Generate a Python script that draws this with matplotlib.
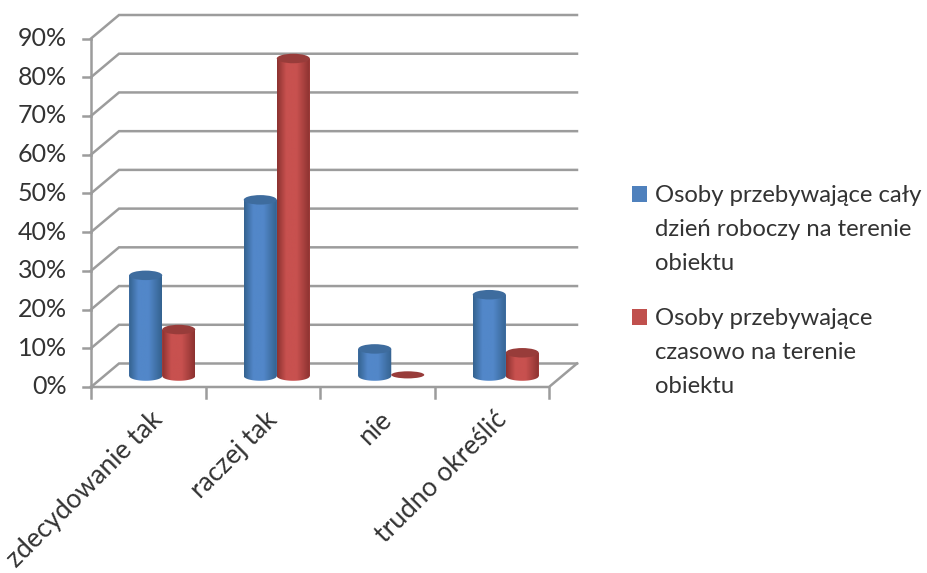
import numpy as np
import matplotlib
matplotlib.use("Agg")
import matplotlib.pyplot as plt
from matplotlib.patches import Ellipse, Polygon, Rectangle
from matplotlib.colors import LinearSegmentedColormap

categories = ["zdecydowanie tak", "raczej tak", "nie", "trudno określić"]
series_names = ["Osoby przebywające cały\ndzień roboczy na terenie\nobiektu",
                "Osoby przebywające\nczasowo na terenie\nobiektu"]
blue_values = [26, 45.5, 7, 21]
red_values = [12, 82, 0.3, 6]
y_ticks = [0, 10, 20, 30, 40, 50, 60, 70, 80, 90]

W, H = 927, 573
plt.rcParams["font.family"] = ["Lato", "DejaVu Sans"]
fig = plt.figure(figsize=(W / 100, H / 100), dpi=100)
L, R, B, T = 91, 549, 387, 38.5
ax = fig.add_axes([L / W, 1 - B / H, (R - L) / W, (B - T) / H])
ax.set_xlim(0, 4)
ax.set_ylim(0, 90)
ax.axis("off")

px = 4 / (R - L)
py = 90 / (B - T)
dx, dy = 28 * px, 23.5 * py
GRID = "#9c9c9c"
lw = 1.8
TXT = "#333333"

for v in y_ticks:
    ax.plot([0, dx, 4 + dx], [v, v + dy, v + dy], color=GRID, lw=lw, clip_on=False, zorder=1,
            solid_joinstyle="miter")
    ax.plot([-8 * px, 0], [v, v], color=GRID, lw=lw, clip_on=False, zorder=1)
    ax.text(-24 * px, v, f"{v}%", ha="right", va="center", fontsize=18, color=TXT)
ax.plot([0, 0], [0, 90], color=GRID, lw=lw, clip_on=False, zorder=1)
ax.plot([0, 4, 4 + dx], [0, 0, dy], color=GRID, lw=lw, clip_on=False, zorder=1)
for i in range(5):
    ax.plot([i, i], [0, -11 * py], color=GRID, lw=lw, clip_on=False, zorder=1)

for i, c in enumerate(categories):
    ax.annotate(c, xy=(i + 0.5, 0), xytext=(2, -20), textcoords="offset pixels",
                rotation=45, rotation_mode="anchor", ha="right", va="top",
                fontsize=19, color=TXT, annotation_clip=False)

def cmap_for(dark, mid):
    return LinearSegmentedColormap.from_list(
        "c", [(0, dark), (0.28, mid), (0.6, mid), (1, dark)], N=256)

cyl_w = 33 * px
ell_h = 9.5 * py
base = dy / 2 - 0.2
grad = np.linspace(0, 1, 128).reshape(1, -1)

def cylinder(xc, val, body_dark, body_mid, top_col, z):
    top = base + val
    if val >= 1:
        ax.bar(xc, val, bottom=base, width=cyl_w, color=body_mid, zorder=z, clip_on=False)
        t = np.linspace(np.pi, 2 * np.pi, 40)
        xs = xc + cyl_w / 2 * np.cos(t)
        ys = base + ell_h / 2 * np.sin(t)
        verts = np.vstack([[xc - cyl_w / 2, top], np.column_stack([xs, ys]), [xc + cyl_w / 2, top]])
        clip = Polygon(verts, closed=True, transform=ax.transData, facecolor="none", edgecolor="none")
        ax.add_patch(clip)
        im = ax.imshow(grad, extent=[xc - cyl_w / 2, xc + cyl_w / 2, base - ell_h / 2, top], aspect="auto",
                       cmap=cmap_for(body_dark, body_mid), zorder=z + 0.1, clip_on=True)
        im.set_clip_path(clip)
    ax.add_patch(Ellipse((xc, top), cyl_w, ell_h if val >= 1 else ell_h * 0.75, facecolor=top_col,
                         edgecolor="none", zorder=z + 0.2, clip_on=False))

BLUE_D, BLUE_M, BLUE_T = "#34628f", "#5287c9", "#3e6c9e"
RED_D, RED_M, RED_T = "#8c3230", "#c8514f", "#983c3a"
for i in range(4):
    c = i + 0.5 + dx / 2
    cylinder(c - cyl_w / 2, blue_values[i], BLUE_D, BLUE_M, BLUE_T, 3)
    cylinder(c + cyl_w / 2, red_values[i], RED_D, RED_M, RED_T, 4)

ax.set_xlim(0, 4)
ax.set_ylim(0, 90)

for (name, col, ysq, ytxt) in [(series_names[0], "#4f81bd", 193.5, 229.5),
                               (series_names[1], "#c0504d", 316.5, 352.5)]:
    fig.add_artist(Rectangle((632 / W, 1 - (ysq + 8) / H), 15 / W, 16 / H, transform=fig.transFigure,
                             facecolor=col, edgecolor="none"))
    fig.text(655 / W, 1 - ytxt / H, name, ha="left", va="center", fontsize=17.2,
             color=TXT, linespacing=1.78)

fig.savefig("out.png", dpi=100)
